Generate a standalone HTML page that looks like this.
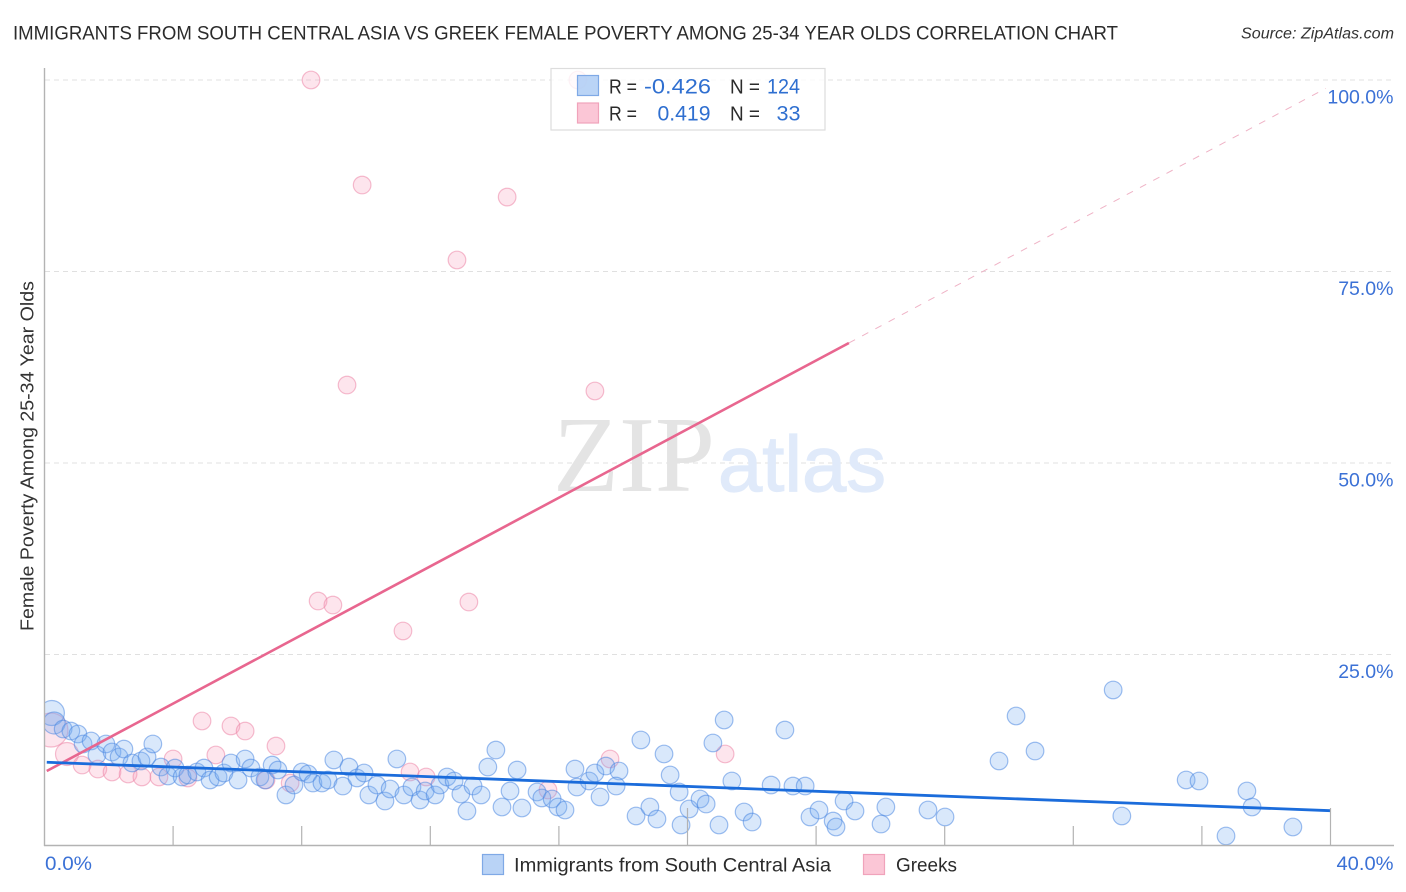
<!DOCTYPE html>
<html lang="en">
<head>
<meta charset="utf-8">
<title>Immigrants from South Central Asia vs Greek Female Poverty Correlation Chart</title>
<style>
html,body{margin:0;padding:0;background:#fff;width:1406px;height:892px;overflow:hidden}
svg{display:block}
text{font-family:"Liberation Sans",sans-serif}
</style>
</head>
<body>
<svg id="chart" width="1406" height="892" viewBox="0 0 1406 892" xmlns="http://www.w3.org/2000/svg">
  <defs>
    <clipPath id="plot-clip"><rect x="45" y="60" width="1350" height="786"/></clipPath>
  </defs>
  <rect x="0" y="0" width="1406" height="892" fill="#ffffff"/>
  <text x="13" y="39.500" font-size="19.500" fill="#2b2b2b" textLength="1105" lengthAdjust="spacingAndGlyphs">IMMIGRANTS FROM SOUTH CENTRAL ASIA VS GREEK FEMALE POVERTY AMONG 25-34 YEAR OLDS CORRELATION CHART</text>
  <text x="1241" y="38.500" font-size="15.500" font-style="italic" fill="#333333" textLength="153" lengthAdjust="spacingAndGlyphs">Source: ZipAtlas.com</text>
  <g id="grid"></g>
  <g>
    <text x="553" y="491" font-size="108" fill="#e4e4e4" style="font-family:'Liberation Serif',serif" textLength="162" lengthAdjust="spacingAndGlyphs">ZIP</text>
    <text x="718" y="491" font-size="79" fill="#e0eafa" stroke="#e0eafa" stroke-width="1.200" textLength="168" lengthAdjust="spacingAndGlyphs">atlas</text>
  </g>
  <g id="greek-points" clip-path="url(#plot-clip)"></g>
  <g id="immigrant-points" clip-path="url(#plot-clip)"></g>
  <g id="trends"></g>
  <g id="axes"></g>
  <text transform="translate(33.500,631) rotate(-90)" font-size="18.500" fill="#333333" textLength="350" lengthAdjust="spacingAndGlyphs">Female Poverty Among 25-34 Year Olds</text>

  <g>
    <rect x="551" y="68.500" width="274" height="61.500" fill="#ffffff" fill-opacity="0.8" stroke="#dddddd" stroke-width="1.200"/>
    <rect x="577.500" y="75.500" width="21" height="20" fill="#a9c9f4" fill-opacity="0.8" stroke="#7fa9e6" stroke-width="1.200"/>
    <rect x="577.500" y="103" width="21" height="20" fill="#fbc6d6" stroke="#f0a3bb" stroke-width="1.200"/>
    <text x="609" y="93.500" font-size="20" fill="#2b2b2b" textLength="28" lengthAdjust="spacingAndGlyphs">R =</text>
    <text x="644" y="93.500" font-size="21" fill="#2f6fd0" textLength="67" lengthAdjust="spacingAndGlyphs">-0.426</text>
    <text x="730" y="93.500" font-size="20" fill="#2b2b2b" textLength="30" lengthAdjust="spacingAndGlyphs">N =</text>
    <text x="767" y="93.500" font-size="21" fill="#2f6fd0" textLength="33" lengthAdjust="spacingAndGlyphs">124</text>
    <text x="609" y="120.500" font-size="20" fill="#2b2b2b" textLength="28" lengthAdjust="spacingAndGlyphs">R =</text>
    <text x="657.500" y="120.500" font-size="21" fill="#2f6fd0" textLength="53" lengthAdjust="spacingAndGlyphs">0.419</text>
    <text x="730" y="120.500" font-size="20" fill="#2b2b2b" textLength="30" lengthAdjust="spacingAndGlyphs">N =</text>
    <text x="776.500" y="120.500" font-size="21" fill="#2f6fd0" textLength="24" lengthAdjust="spacingAndGlyphs">33</text>
  </g>

  <g>
    <rect x="482.500" y="854.500" width="21" height="20" fill="#b9d3f6" stroke="#7fa9e6" stroke-width="1.200"/>
    <text x="514" y="871.500" font-size="19.500" fill="#2b2b2b" textLength="317" lengthAdjust="spacingAndGlyphs">Immigrants from South Central Asia</text>
    <rect x="863.500" y="854.500" width="21" height="20" fill="#fbc6d6" stroke="#f0a3bb" stroke-width="1.200"/>
    <text x="896" y="871.500" font-size="19.500" fill="#2b2b2b" textLength="61" lengthAdjust="spacingAndGlyphs">Greeks</text>
  </g>
</svg>
<script>
// Chart data (x = immigrants share %, y = female poverty %)
const immigrantsX = [0.23,0.30,0.58,0.82,1.04,1.20,1.45,1.63,1.91,2.10,2.32,2.47,2.72,3.00,3.19,3.37,3.62,3.84,4.06,4.28,4.46,4.74,4.96,5.15,5.40,5.58,5.80,6.02,6.24,6.42,6.70,6.86,7.08,7.26,7.51,7.76,8.01,8.20,8.35,8.63,8.82,9.00,9.28,9.47,9.72,9.94,10.09,10.34,10.59,10.75,10.96,11.18,11.43,11.68,11.84,12.15,12.30,12.52,12.74,12.95,13.14,13.33,13.58,14.04,13.79,14.70,14.48,14.23,14.85,15.32,15.47,15.79,15.97,16.19,16.50,16.56,16.94,17.12,17.46,17.87,17.78,17.28,18.55,19.27,19.46,19.74,18.40,18.83,19.05,20.05,19.80,20.39,20.58,20.98,20.79,21.14,21.38,21.76,22.01,22.60,23.03,23.28,23.66,23.81,24.09,24.53,24.62,24.87,25.21,26.02,26.17,27.48,28.01,30.22,29.69,30.81,33.24,33.51,35.51,35.91,37.40,37.56,38.83,36.75];
const immigrantsY = [17.36,16.06,15.27,15.01,14.62,13.32,13.71,11.88,13.32,12.27,11.62,12.66,10.84,11.10,11.62,13.32,10.31,9.14,10.18,9.01,9.27,9.66,10.18,8.62,9.01,9.53,10.84,8.62,11.36,10.18,9.01,8.62,10.57,9.92,6.66,7.96,9.66,9.40,8.22,8.22,8.62,11.23,7.83,10.31,8.88,9.53,6.66,7.96,5.87,7.44,11.36,6.66,7.70,6.01,7.18,6.66,7.96,9.01,8.49,6.79,4.57,7.83,6.66,12.53,10.31,9.92,7.18,5.09,4.96,7.05,6.27,6.14,5.09,4.70,10.05,7.70,8.49,9.53,10.44,9.79,7.83,6.40,13.84,12.01,9.27,7.05,3.92,5.09,3.52,4.83,2.74,6.14,5.48,2.74,13.45,16.45,8.49,4.44,3.13,7.96,15.14,7.83,7.83,3.79,4.70,3.26,2.48,5.87,4.57,2.87,5.09,4.70,3.79,16.97,11.10,12.40,20.37,3.92,8.62,8.49,7.18,5.09,2.48,1.31];
const greeksX = [8.29,9.88,14.39,12.83,9.41,17.12,8.51,8.97,13.20,11.15,16.59,0.20,0.70,1.17,1.66,2.10,2.60,3.03,3.56,4.00,4.46,4.90,5.33,5.80,6.24,6.89,7.20,7.64,11.37,11.87,15.66,17.59,21.17];
const greeksY = [100,86.29,84.72,76.50,60.18,59.40,31.98,31.46,31.85,28.07,100,15.14,12.01,10.57,10.05,9.66,9.40,9.01,9.01,11.36,8.88,16.32,11.88,15.67,15.01,8.62,13.05,8.22,9.66,9.01,7.31,11.36,12.01];
const immigrantsTrendX = [0.07,40];
const immigrantsTrendY = [10.93,4.61];
const greeksTrendX = [0.07,25.02];
const greeksTrendY = [9.79,65.67];
const greeksProjectionX = [25.02,39.85];
const greeksProjectionY = [65.67,98.9];
const yTicks = [25,50,75,100];
const yTickLabels = ["25.0%","50.0%","75.0%","100.0%"];
const xTicks = [0,4,8,12,16,20,24,28,32,36,40];
const xMajorTicks = [20,40];
const xEndTicks = [0,40];
const xEndLabels = ["0.0%","40.0%"];

const SVG_NS = 'http://www.w3.org/2000/svg';
const sx = v => 44.5 + v * 32.15;
const sy = v => 846 - v * 7.66;
// A few clustered records near the origin are drawn larger.
const immigrantRadius = i => i === 0 ? 12.5 : i === 1 ? 11 : 8.8;
const greekRadius = i => i === 11 ? 17 : i === 12 ? 11.5 : 8.8;

function make(tag, attrs, parent) {
  const el = document.createElementNS(SVG_NS, tag);
  for (const k in attrs) el.setAttribute(k, attrs[k]);
  parent.appendChild(el);
  return el;
}

const gridG = document.getElementById('grid');
yTicks.forEach(t => {
  const line = make('line', {x1: 45, x2: 1394, y1: sy(t), y2: sy(t), stroke: '#e0e0e0', 'stroke-width': 1, 'stroke-dasharray': '5 4'}, gridG);
  
  
});

const greekG = document.getElementById('greek-points');
greeksX.forEach((x, i) => {
  const c = make('circle', {cx: sx(x), cy: sy(greeksY[i]), r: greekRadius(i), fill: 'rgba(246,160,188,0.27)', stroke: 'rgba(236,135,168,0.55)', 'stroke-width': 1.2}, greekG);
  
  
});

const immG = document.getElementById('immigrant-points');
immigrantsX.forEach((x, i) => {
  const c = make('circle', {cx: sx(x), cy: sy(immigrantsY[i]), r: immigrantRadius(i), fill: 'rgba(120,172,240,0.28)', stroke: 'rgba(70,132,225,0.52)', 'stroke-width': 1.2}, immG);
  
  
});

const trendG = document.getElementById('trends');
const projection = make('line', {x1: sx(greeksProjectionX[0]), y1: sy(greeksProjectionY[0]), x2: sx(greeksProjectionX[1]), y2: sy(greeksProjectionY[1]), stroke: '#efb3c6', 'stroke-width': 1, 'stroke-dasharray': '7 8'}, trendG);


const pinkTrend = make('line', {x1: sx(greeksTrendX[0]), y1: sy(greeksTrendY[0]), x2: sx(greeksTrendX[1]), y2: sy(greeksTrendY[1]), stroke: '#e8668f', 'stroke-width': 2.6}, trendG);


const blueTrend = make('line', {x1: sx(immigrantsTrendX[0]), y1: sy(immigrantsTrendY[0]), x2: sx(immigrantsTrendX[1]), y2: sy(immigrantsTrendY[1]), stroke: '#1b6cdb', 'stroke-width': 2.8}, trendG);



const axesG = document.getElementById('axes');
const yAxis = make('line', {x1: 44.5, x2: 44.5, y1: 68, y2: 846, stroke: '#b3b3b3', 'stroke-width': 1.4}, axesG);


const xAxis = make('line', {x1: 44, x2: 1394, y1: 845.5, y2: 845.5, stroke: '#b3b3b3', 'stroke-width': 1.4}, axesG);


xTicks.forEach(t => {
  if (t === 0) return;
  const top = xMajorTicks.includes(t) ? 808 : 826;
  const tick = make('line', {x1: sx(t), x2: sx(t), y1: top, y2: 845.5, stroke: '#b3b3b3', 'stroke-width': 1.2}, axesG);
  
  
});
yTicks.forEach((t, i) => {
  const label = make('text', {x: 1393.5, y: sy(t) + 23.5, 'text-anchor': 'end', 'font-size': 19.5, fill: '#3b71d6'}, axesG);
  label.textContent = yTickLabels[i];
  
  
});
xEndTicks.forEach((t, i) => {
  const label = make('text', {x: i === 0 ? 45 : 1393.5, y: 870, 'text-anchor': i === 0 ? 'start' : 'end', 'font-size': 19.5, fill: '#3b71d6'}, axesG);
  label.textContent = xEndLabels[i];
  if (i === 0) label.setAttribute('textLength', 47);
  else label.setAttribute('textLength', 57);
  label.setAttribute('lengthAdjust', 'spacingAndGlyphs');
  
  
});
</script>
</body>
</html>
